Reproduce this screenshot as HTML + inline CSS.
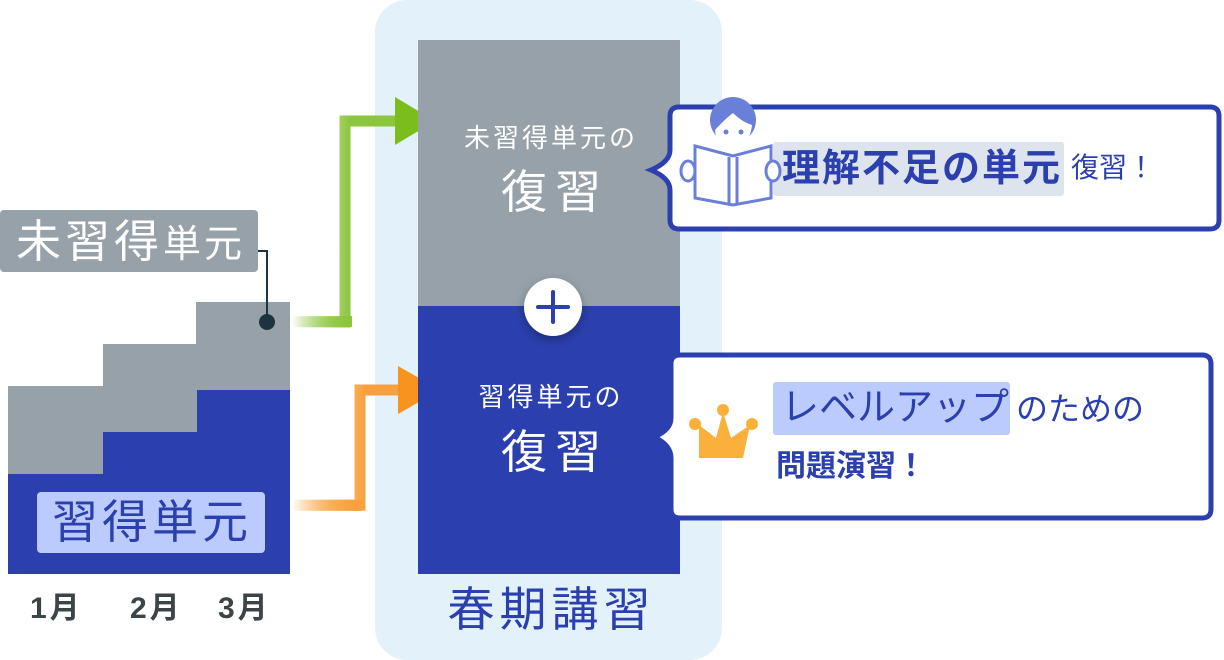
<!DOCTYPE html>
<html><head><meta charset="utf-8"><style>
body{margin:0;width:1224px;height:660px;background:#fff;position:relative;overflow:hidden;font-family:"Liberation Sans","Noto Sans CJK JP",sans-serif}
.a{position:absolute}
.t{position:absolute;white-space:nowrap;line-height:1}
</style></head><body>
<svg class="a" style="left:0;top:0" width="1224" height="660">
<defs>
<linearGradient id="g" x1="292" y1="0" x2="350" y2="0" gradientUnits="userSpaceOnUse"><stop offset="0" stop-color="#8cc63f" stop-opacity="0"/><stop offset="1" stop-color="#8cc63f"/></linearGradient>
<linearGradient id="o" x1="292" y1="0" x2="365" y2="0" gradientUnits="userSpaceOnUse"><stop offset="0" stop-color="#f7931e" stop-opacity="0"/><stop offset="1" stop-color="#f7a13e"/></linearGradient>
<filter id="sh" x="-50%" y="-50%" width="200%" height="200%"><feDropShadow dx="0" dy="4" stdDeviation="5" flood-color="#000" flood-opacity="0.3"/></filter>
</defs>
<rect x="375" y="0" width="347" height="660" rx="32" fill="#e3f2fa"/>
<path d="M8 386H103V344H196V302H290V574H8Z" fill="#96a1a9"/>
<path d="M8 474H103V432H197V390H290V574H8Z" fill="#2b40ae"/>
<rect x="0" y="210" width="258" height="62" rx="4" fill="#96a1a9"/>
<path d="M258 251H267V322" stroke="#1c3340" stroke-width="2" fill="none"/>
<circle cx="267" cy="322" r="8" fill="#1c3340"/>
<rect x="37" y="492" width="228" height="61" rx="4" fill="#bccbfd"/>
<path d="M292 322H345V121H400" stroke="url(#g)" stroke-width="11" fill="none"/>
<rect x="292" y="316" width="60" height="11" fill="url(#g)"/>
<path d="M395 97L435 121L395 145Z" fill="#7cbd1e"/>
<path d="M292 505H360V390H400" stroke="url(#o)" stroke-width="11" fill="none"/>
<rect x="292" y="500" width="70" height="11" fill="url(#o)"/>
<path d="M398 366L440 390L398 414Z" fill="#f7931e"/>
<rect x="418" y="40" width="262" height="267" fill="#96a1a9"/>
<rect x="418" y="306" width="262" height="268" fill="#2b40ae"/>
<circle cx="553" cy="307" r="29" fill="#fff" filter="url(#sh)"/>
<path d="M538 307H568M553 292V322" stroke="#2b40ae" stroke-width="4" stroke-linecap="round"/>
<path d="M677 107H1210Q1219 107 1219 116V220Q1219 229 1210 229H679Q670 229 670 220V190Q670 178 651 170Q670 162 670 150V116Q670 107 679 107Z" fill="#fff" stroke="#2b40ae" stroke-width="5"/>
<path d="M680 355H1202Q1211 355 1211 364V509Q1211 518 1202 518H680Q671 518 671 509V458Q671 445 654 437Q671 430 671 418V364Q671 355 680 355Z" fill="#fff" stroke="#2b40ae" stroke-width="5"/>
<rect x="773" y="142" width="291" height="54" rx="3" fill="#dde4ed"/>
<rect x="773" y="382" width="237" height="53" rx="3" fill="#bccbfd"/>
<circle cx="733" cy="120" r="23" fill="#6a7fd8"/>
<path d="M715 130Q724 120 733 113Q742 122 752 125Q750 146 733 147Q716 146 715 130Z" fill="#fff"/>
<circle cx="726" cy="132" r="2.5" fill="#6a7fd8"/><circle cx="741" cy="132" r="2.5" fill="#6a7fd8"/>
<path d="M695 146L733 156L771 146V198L733 205L695 198Z" fill="#fff" stroke="#6a7fd8" stroke-width="3"/>
<path d="M729 157V203M737 157V203" stroke="#6a7fd8" stroke-width="3"/>
<ellipse cx="688" cy="171" rx="7" ry="10" fill="#fff" stroke="#6a7fd8" stroke-width="3"/>
<ellipse cx="773" cy="171" rx="7" ry="10" fill="#fff" stroke="#6a7fd8" stroke-width="3"/>
<path d="M699 425L716 438L723 412L731 438L750 425L743 458H699Z" fill="#fbb03b"/>
<circle cx="695" cy="424" r="6" fill="#fbb03b"/><circle cx="723" cy="410" r="6" fill="#fbb03b"/><circle cx="752" cy="424" r="6" fill="#fbb03b"/>
</svg>
<div class="t" style="left:16px;top:219px;font-size:45px;letter-spacing:4px;color:#fff">未習得<span style="font-size:38px;letter-spacing:3px">単元</span></div>
<div class="t" style="left:52px;top:499px;font-size:46px;letter-spacing:4px;color:#2b40ae">習得単元</div>
<div class="t" style="left:30px;top:594px;font-size:30px;letter-spacing:3px;font-weight:bold;color:#3d4448">1月</div>
<div class="t" style="left:130px;top:594px;font-size:30px;letter-spacing:3px;font-weight:bold;color:#3d4448">2月</div>
<div class="t" style="left:218px;top:594px;font-size:30px;letter-spacing:3px;font-weight:bold;color:#3d4448">3月</div>
<div class="t" style="left:420px;width:262px;text-align:center;top:125px;font-size:26px;letter-spacing:3px;color:#fff">未習得単元の</div>
<div class="t" style="left:424px;width:262px;text-align:center;top:169px;font-size:46px;letter-spacing:8px;color:#fff">復習</div>
<div class="t" style="left:420px;width:262px;text-align:center;top:384px;font-size:26px;letter-spacing:3px;color:#fff">習得単元の</div>
<div class="t" style="left:424px;width:262px;text-align:center;top:429px;font-size:46px;letter-spacing:8px;color:#fff">復習</div>
<div class="t" style="left:378px;width:347px;text-align:center;top:586px;font-size:47px;letter-spacing:5px;color:#2b40ae">春期講習</div>
<div class="t" style="left:782px;top:150px;font-size:38px;letter-spacing:2px;font-weight:bold;color:#2b40ae">理解不足の単元</div>
<div class="t" style="left:1071px;top:154px;font-size:28px;color:#2b40ae">復習！</div>
<div class="t" style="left:781px;top:389px;font-size:38px;color:#2b40ae">レベルアップ</div>
<div class="t" style="left:1016px;top:393px;font-size:32px;color:#2b40ae">のための</div>
<div class="t" style="left:776px;top:452px;font-size:30px;font-weight:bold;color:#2b40ae">問題演習！</div>
</body></html>
